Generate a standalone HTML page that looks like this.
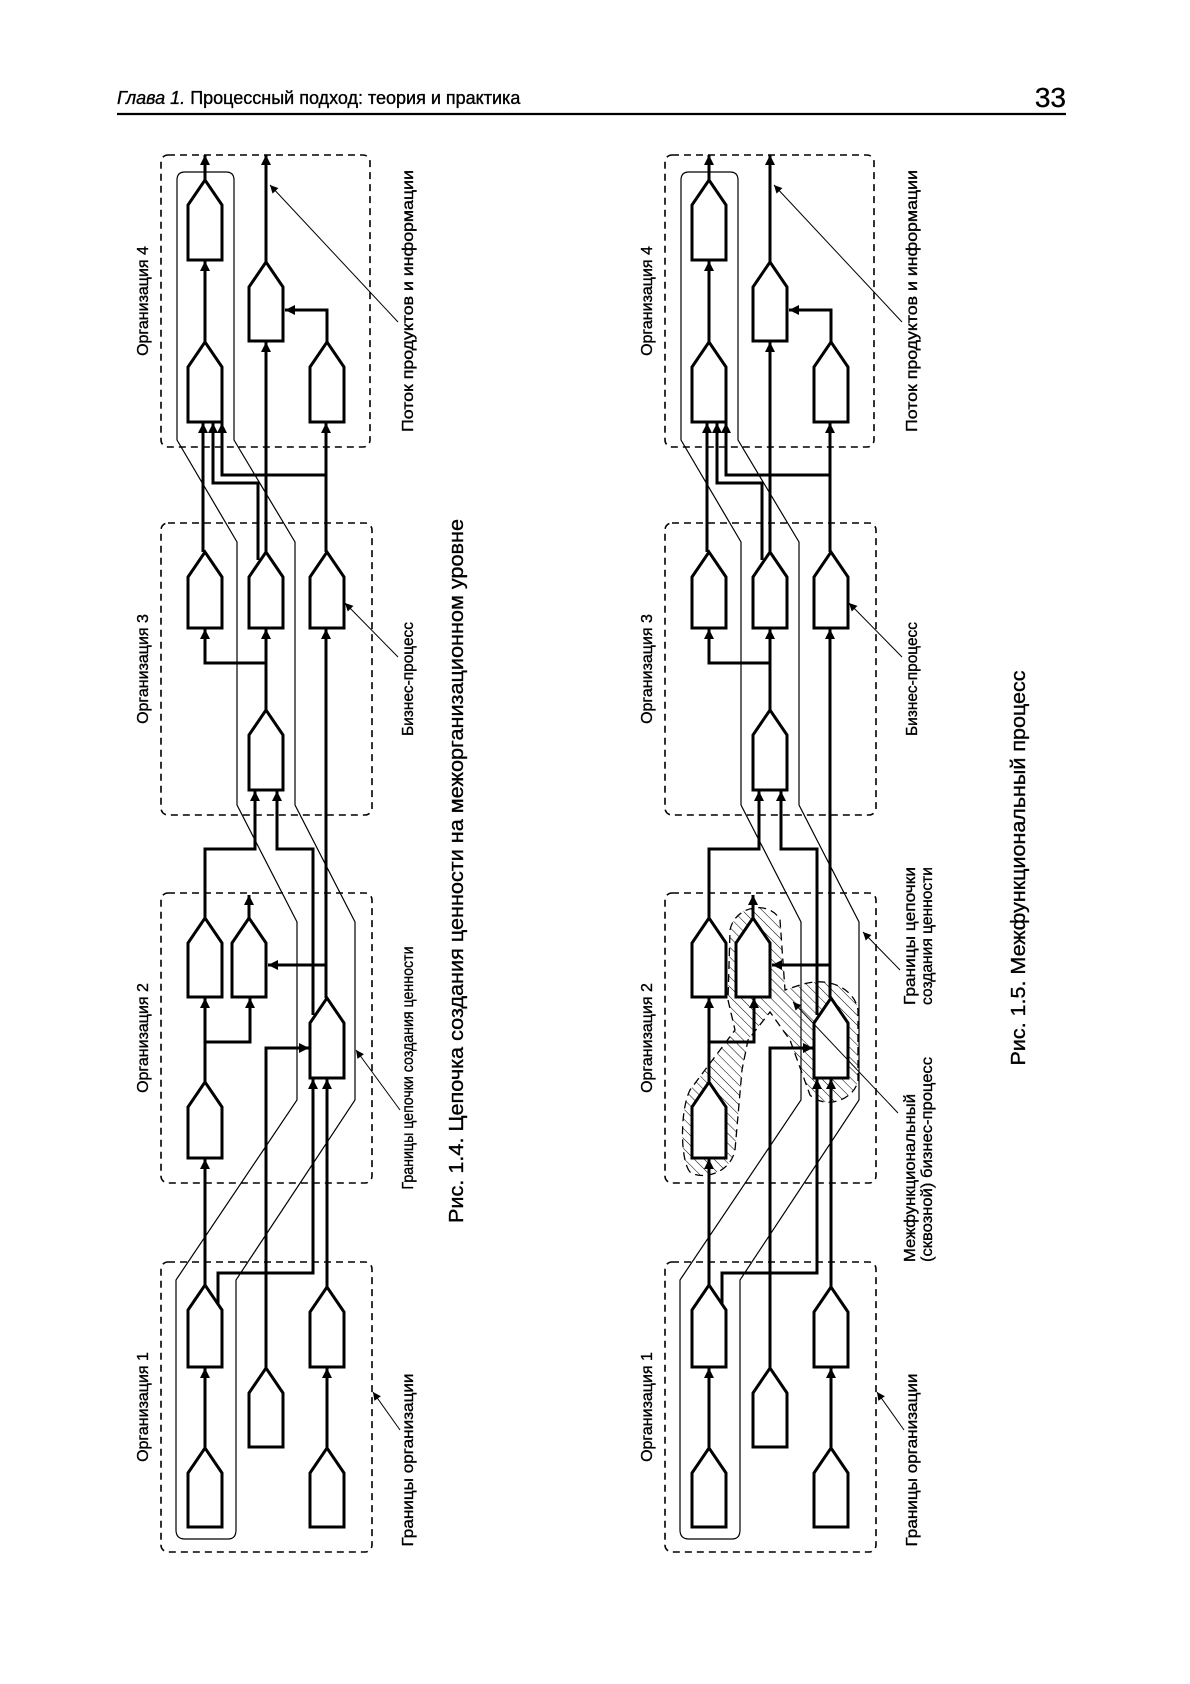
<!DOCTYPE html>
<html><head><meta charset="utf-8"><style>
html,body{margin:0;padding:0;background:#fff}
svg{display:block}
text{font-family:"Liberation Sans",sans-serif;fill:#000;stroke:#000;stroke-width:0.35}
</style></head><body>
<svg width="1190" height="1684" viewBox="0 0 1190 1684" xmlns="http://www.w3.org/2000/svg">
<defs>
<marker id="ar" viewBox="0 0 10 10" refX="10" refY="5" markerWidth="11" markerHeight="10" markerUnits="userSpaceOnUse" orient="auto"><path d="M0,0 L10,5 L0,10 Z" fill="#000"/></marker>
<marker id="sa" viewBox="0 0 10 10" refX="10" refY="5" markerWidth="9" markerHeight="8" markerUnits="userSpaceOnUse" orient="auto"><path d="M0,0 L10,5 L0,10 Z" fill="#000"/></marker>
<pattern id="hatch" width="7" height="7" patternUnits="userSpaceOnUse" patternTransform="rotate(-45)"><line x1="0" y1="0" x2="0" y2="7" stroke="#000" stroke-width="1"/></pattern>
<g id="fig">
 <g fill="none" stroke="#000" stroke-width="1.6" stroke-dasharray="7,5">
  <rect x="161" y="155" width="209" height="292" rx="7"/>
  <rect x="161" y="523" width="211" height="292" rx="7"/>
  <rect x="161" y="893" width="211" height="290" rx="7"/>
  <rect x="161" y="1262" width="211" height="290" rx="7"/>
 </g>
 <path d="M177,180 Q177,172 185,172 L226,172 Q234,172 234,180 L234,440 L295,542 L295,805 L355,922 L355,1100 L236,1280 L236,1530 Q236,1539 228,1539 L185,1539 Q176,1539 176,1530 L176,1280 L297,1100 L297,922 L237,805 L237,542 L177,440 Z" fill="none" stroke="#000" stroke-width="1.2"/>
 <g fill="none" stroke="#000" stroke-width="3">
  <path d="M205,1448 L205,1368" marker-end="url(#ar)"/>
  <path d="M205,1285 L205,1159" marker-end="url(#ar)"/>
  <path d="M205,1082 L205,998" marker-end="url(#ar)"/>
  <path d="M205,1042 L250,1042 L250,998" marker-end="url(#ar)"/>
  <path d="M205,918 L205,849 L255,849 L255,791" marker-end="url(#ar)"/>
  <path d="M249,918 L249,895" marker-end="url(#ar)"/>
  <path d="M266,710 L266,629" marker-end="url(#ar)"/>
  <path d="M266,663 L205,663 L205,629" marker-end="url(#ar)"/>
  <path d="M203,552 L203,423" marker-end="url(#ar)"/>
  <path d="M266,552 L266,342" marker-end="url(#ar)"/>
  <path d="M258,560 L258,483 L213,483 L213,423" marker-end="url(#ar)"/>
  <path d="M326,552 L326,423" marker-end="url(#ar)"/>
  <path d="M326,475 L222,475 L222,423" marker-end="url(#ar)"/>
  <path d="M327,342 L327,310 L285,310" marker-end="url(#ar)"/>
  <path d="M266,262 L266,155" marker-end="url(#ar)"/>
  <path d="M205,342 L205,261" marker-end="url(#ar)"/>
  <path d="M205,180 L205,155" marker-end="url(#ar)"/>
  <path d="M327,1448 L327,1368" marker-end="url(#ar)"/>
  <path d="M327,1287 L327,1079" marker-end="url(#ar)"/>
  <path d="M218,1305 L218,1273 L313,1273 L313,1079" marker-end="url(#ar)"/>
  <path d="M266,1368 L266,1048 L309,1048" marker-end="url(#ar)"/>
  <path d="M326,998 L326,629" marker-end="url(#ar)"/>
  <path d="M326,965 L268,965" marker-end="url(#ar)"/>
  <path d="M313,1015 L313,849 L277,849 L277,791" marker-end="url(#ar)"/>
 </g>
</g>
<g id="shapes" fill="#fff" stroke="#000" stroke-width="3" stroke-linejoin="miter">
 <path d="M188,205 L205,180 L222,205 L222,260 L188,260 Z"/>
 <path d="M188,367 L205,342 L222,367 L222,422 L188,422 Z"/>
 <path d="M188,577 L205,552 L222,577 L222,628 L188,628 Z"/>
 <path d="M188,943 L205,918 L222,943 L222,997 L188,997 Z"/>
 <path d="M188,1107 L205,1082 L222,1107 L222,1158 L188,1158 Z"/>
 <path d="M188,1310 L205,1285 L222,1310 L222,1367 L188,1367 Z"/>
 <path d="M188,1473 L205,1448 L222,1473 L222,1527 L188,1527 Z"/>
 <path d="M249,287 L266,262 L283,287 L283,341 L249,341 Z"/>
 <path d="M249,577 L266,552 L283,577 L283,628 L249,628 Z"/>
 <path d="M249,735 L266,710 L283,735 L283,790 L249,790 Z"/>
 <path d="M249,1393 L266,1368 L283,1393 L283,1447 L249,1447 Z"/>
 <path d="M232,943 L249,918 L266,943 L266,997 L232,997 Z"/>
 <path d="M310,367 L327,342 L344,367 L344,422 L310,422 Z"/>
 <path d="M310,577 L327,552 L344,577 L344,628 L310,628 Z"/>
 <path d="M310,1023 L327,998 L344,1023 L344,1078 L310,1078 Z"/>
 <path d="M310,1312 L327,1287 L344,1312 L344,1367 L310,1367 Z"/>
 <path d="M310,1473 L327,1448 L344,1473 L344,1527 L310,1527 Z"/>
</g>
</defs>

<text x="117" y="104" font-size="18"><tspan font-style="italic">Глава 1.</tspan> Процессный подход: теория и практика</text>
<text x="1066" y="107" font-size="28" text-anchor="end">33</text>
<line x1="117" y1="114" x2="1066" y2="114" stroke="#000" stroke-width="2.2"/>

<use href="#fig"/>
<use href="#shapes"/>
<g transform="translate(504,0)">
 <use href="#fig"/>
 <path d="M690,1172 C680,1160 680,1110 690,1090 L735,1030 L728,1000 L730,930 C735,905 770,900 780,920 L785,990 L800,985 C830,975 855,990 858,1010 L858,1080 C855,1100 825,1110 810,1095 L790,1040 L770,1012 L748,1040 L742,1070 L735,1150 C730,1175 700,1180 690,1172 Z" transform="translate(-504,0)" fill="url(#hatch)" stroke="#000" stroke-width="1.3" stroke-dasharray="8,5"/>
 <use href="#shapes"/>
</g>

<g stroke="#000" stroke-width="1" fill="none">
 <line x1="398" y1="322" x2="270" y2="185" marker-end="url(#sa)"/>
 <line x1="398" y1="657" x2="345" y2="603" marker-end="url(#sa)"/>
 <line x1="400" y1="1110" x2="356" y2="1050" marker-end="url(#sa)"/>
 <line x1="400" y1="1430" x2="373" y2="1392" marker-end="url(#sa)"/>
 <line x1="902" y1="322" x2="774" y2="185" marker-end="url(#sa)"/>
 <line x1="902" y1="657" x2="849" y2="603" marker-end="url(#sa)"/>
 <line x1="900" y1="970" x2="863" y2="932" marker-end="url(#sa)"/>
 <line x1="898" y1="1113" x2="793" y2="1002" marker-end="url(#sa)"/>
 <line x1="904" y1="1430" x2="877" y2="1392" marker-end="url(#sa)"/>
</g>

<g font-size="16">
 <text transform="translate(148,301) rotate(-90)" text-anchor="middle">Организация 4</text>
 <text transform="translate(148,669) rotate(-90)" text-anchor="middle">Организация 3</text>
 <text transform="translate(148,1038) rotate(-90)" text-anchor="middle">Организация 2</text>
 <text transform="translate(148,1407) rotate(-90)" text-anchor="middle">Организация 1</text>
 <text transform="translate(413,301) rotate(-90)" text-anchor="middle" textLength="262" lengthAdjust="spacingAndGlyphs">Поток продуктов и информации</text>
 <text transform="translate(413,679) rotate(-90)" text-anchor="middle" textLength="114" lengthAdjust="spacingAndGlyphs">Бизнес-процесс</text>
 <text transform="translate(413,1068) rotate(-90)" text-anchor="middle" textLength="243" lengthAdjust="spacingAndGlyphs">Границы цепочки создания ценности</text>
 <text transform="translate(413,1460) rotate(-90)" text-anchor="middle" textLength="173" lengthAdjust="spacingAndGlyphs">Границы организации</text>

 <text transform="translate(652,301) rotate(-90)" text-anchor="middle">Организация 4</text>
 <text transform="translate(652,669) rotate(-90)" text-anchor="middle">Организация 3</text>
 <text transform="translate(652,1038) rotate(-90)" text-anchor="middle">Организация 2</text>
 <text transform="translate(652,1407) rotate(-90)" text-anchor="middle">Организация 1</text>
 <text transform="translate(917,301) rotate(-90)" text-anchor="middle" textLength="262" lengthAdjust="spacingAndGlyphs">Поток продуктов и информации</text>
 <text transform="translate(917,679) rotate(-90)" text-anchor="middle" textLength="114" lengthAdjust="spacingAndGlyphs">Бизнес-процесс</text>
 <text transform="translate(917,1460) rotate(-90)" text-anchor="middle" textLength="173" lengthAdjust="spacingAndGlyphs">Границы организации</text>
 <text transform="translate(915,1005) rotate(-90)" textLength="138" lengthAdjust="spacingAndGlyphs">Границы цепочки</text>
 <text transform="translate(932,1005) rotate(-90)" textLength="138" lengthAdjust="spacingAndGlyphs">создания ценности</text>
 <text transform="translate(915,1262) rotate(-90)" textLength="168" lengthAdjust="spacingAndGlyphs">Межфункциональный</text>
 <text transform="translate(932,1262) rotate(-90)" textLength="205" lengthAdjust="spacingAndGlyphs">(сквозной) бизнес-процесс</text>
</g>
<text transform="translate(463,871) rotate(-90)" text-anchor="middle" font-size="20" textLength="704" lengthAdjust="spacingAndGlyphs">Рис. 1.4. Цепочка создания ценности на межорганизационном уровне</text>
<text transform="translate(1025,868) rotate(-90)" text-anchor="middle" font-size="20" textLength="395" lengthAdjust="spacingAndGlyphs">Рис. 1.5. Межфункциональный процесс</text>
</svg>
</body></html>
